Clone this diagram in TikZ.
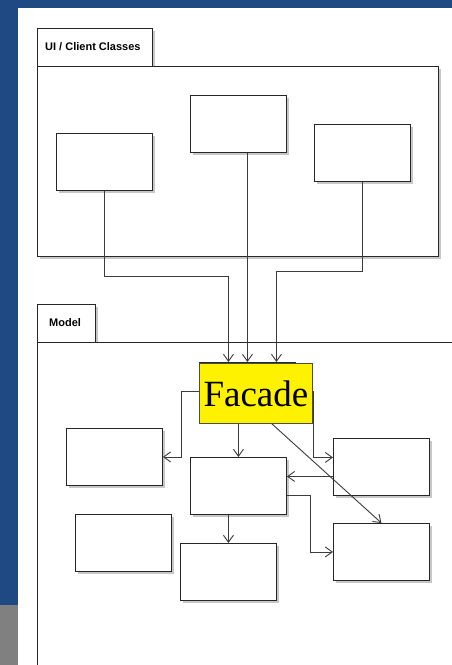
\documentclass[tikz,border=0pt]{standalone}
\usepackage{fontspec}
\setmainfont{Liberation Serif}
\newfontfamily\labelfont{Liberation Sans}
\usetikzlibrary{arrows.meta,shadows}
\definecolor{bgblue}{RGB}{31,73,131}
\definecolor{sidegray}{RGB}{128,128,128}
\definecolor{linegray}{RGB}{60,60,60}
\tikzset{
  shad/.style={drop shadow={shadow xshift=2.5pt,shadow yshift=-2.5pt,fill=black!22,opacity=1}},
  cls/.style={draw=black!85,line width=0.9pt,fill=white,minimum width=96pt,minimum height=57pt,anchor=north west,inner sep=0pt,shad},
  pkgtab/.style={draw=black!85,line width=0.9pt,fill=white,anchor=north west,inner sep=0pt,minimum height=38pt,shad},
  pkglabel/.style={anchor=west,inner sep=0pt,font=\labelfont\bfseries\fontsize{11}{12}\selectfont},
  pkgbody/.style={draw=black!85,line width=0.9pt,fill=white,anchor=north west,inner sep=0pt,shad},
  conn/.style={draw=linegray,line width=0.9pt,-{Straight Barb[length=7pt,width=10pt,line width=0.9pt]}},
  facadestyle/.style={draw=black!70,line width=0.9pt,fill=yellow,anchor=north west,inner sep=0pt,minimum width=113pt,minimum height=60pt,font=\fontsize{37}{40}\selectfont}
}
\begin{document}
\begin{tikzpicture}[x=1pt,y=-1pt]
\useasboundingbox (0,0) rectangle (452,665);
\clip (0,0) rectangle (452,665);
\fill[bgblue] (0,0) rectangle (452,665);
\fill[sidegray] (0,605) rectangle (18,665);
\fill[white] (18,8) rectangle (452,665);
% UI package
\node[pkgtab,minimum width=115pt] (uitab) at (37,28) {};
\node[pkglabel] (uilabel) at (45,47) {UI / Client Classes};
\node[pkgbody,minimum width=401pt,minimum height=190pt] (uibody) at (37,66) {};
\node[cls] (A) at (56,133) {};
\node[cls] (B) at (190,95) {};
\node[cls] (C) at (314,124) {};
% Model package
\node[pkgtab,minimum width=58pt] (mtab) at (37,304) {};
\node[pkglabel] (mlabel) at (49,323) {Model};
\node[pkgbody,minimum width=440pt,minimum height=360pt] (mbody) at (37,342) {};
\node[cls] (fbox) at (199,362) {};
\node[cls] (D) at (66,428) {};
\node[cls] (E) at (190,457) {};
\node[cls] (F) at (333,438) {};
\node[cls] (G) at (75,514) {};
\node[cls] (H) at (180,543) {};
\node[cls] (I) at (333,523) {};
% connectors from UI to facade
\draw[conn] (A.south) -- ++(0,86) -| ([xshift=-19pt]fbox.north);
\draw[conn] (B.south -| fbox.north) -- (fbox.north);
\draw[conn] (C.south) -- ++(0,90) -| ([xshift=29pt]fbox.north);
% connectors inside model
\draw[conn] (fbox.west) -- ++(-18,0) |- (D.east);
\draw[conn] ([xshift=-9pt]fbox.south) -- (E.north);
\draw[conn] (fbox.east) -- ++(18,0) |- ([yshift=9.5pt]F.west);
\draw[conn] ([yshift=-9.5pt]F.west) -- ([yshift=9.5pt]E.east);
\draw[conn] ([yshift=-9.5pt]E.east) -- ++(24,0) |- (I.west);
\draw[conn] ([xshift=-10pt]E.south) -- (H.north);
% facade label on top
\node[facadestyle] (facade) at (199,363) {Facade};
\draw[conn] ([xshift=16pt]facade.south) -- (I.north);
\end{tikzpicture}
\end{document}
